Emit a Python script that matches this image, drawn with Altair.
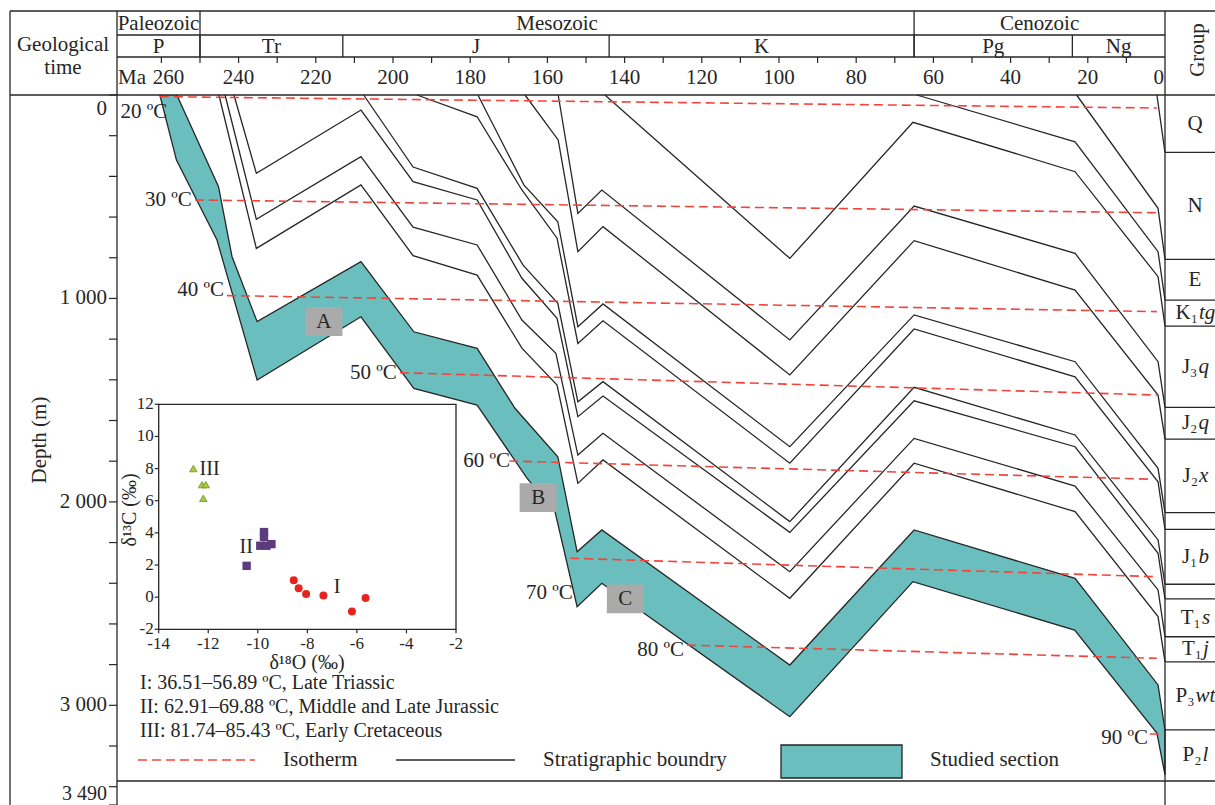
import altair as alt
import pandas as pd

FONT = "Liberation Serif"
INK = "#262626"
TEAL = "#6bbebe"
RED = "#f3443c"
GREY = "#aaaaaa"

# ---------------- geological time scale (Ma) ----------------
era_names = ["Paleozoic", "Mesozoic", "Cenozoic"]
era_from = [271.5, 250.0, 65.0]
era_to = [250.0, 65.0, 0.0]
period_names = ["P", "Tr", "J", "K", "Pg", "Ng"]
period_from = [271.5, 250.0, 213.0, 144.0, 65.0, 24.0]
period_to = [250.0, 213.0, 144.0, 65.0, 24.0, 0.0]
ma_ticks = list(range(10, 261, 10))
ma_labels = list(range(20, 241, 20))

# ---------------- present-day groups (base depth, m) ----------------
group_main = ["Q", "N", "E", "K₁", "J₃", "J₂", "J₂", "", "J₁", "", "T₁", "T₁", "P₃", "P₂"]
group_italic = ["", "", "", "tg", "q", "q", "x", "", "b", "", "s", "j", "wt", "l"]
group_base_m = [282, 808, 1008, 1136, 1535, 1692, 2053, 2135, 2405, 2477, 2663, 2786, 3121, 3372]

depth_ticks = list(range(0, 3401, 200)) + [3490]
depth_labels = [1000, 2000, 3000]
depth_top, depth_bottom = 0, 3490

# ---------------- burial paths: age (Ma) and depth (m) ----------------
# studied section (top and base)
sec_top_ma = [256.0, 245.2, 241.7, 235.2, 208.3, 194.6, 178.2, 168.4, 157.3, 152.3, 145.9, 97.2, 65.0, 23.3, 1.8, 0.0]
sec_top_m = [0, 451, 795, 1114, 819, 1164, 1245, 1540, 1778, 2245, 2138, 2802, 2138, 2376, 2900, 3121]
sec_base_ma = [260.4, 256.1, 245.6, 235.2, 208.3, 194.6, 178.2, 165.3, 158.0, 152.3, 145.9, 97.2, 65.3, 23.4, 2.1, 0.0]
sec_base_m = [0, 320, 713, 1401, 1090, 1442, 1524, 1883, 2050, 2515, 2400, 3056, 2392, 2630, 3136, 3342]

# stratigraphic boundaries (base of each unit)
t1j_ma = [245.1, 235.4, 208.3, 194.8, 178.2, 166.6, 157.5, 152.1, 145.6, 97.2, 65.0, 23.3, 1.8, 0.0]
t1j_m = [0, 754, 442, 790, 885, 1244, 1426, 1909, 1794, 2474, 1810, 2048, 2564, 2786]
t1s_ma = [243.5, 235.4, 208.3, 194.8, 178.2, 166.6, 157.8, 152.1, 145.6, 97.2, 65.0, 23.3, 1.8, 0.0]
t1s_m = [0, 611, 303, 650, 737, 1106, 1270, 1770, 1663, 2343, 1688, 1922, 2433, 2663]
t1u_ma = [241.2, 235.4, 208.3, 194.8, 178.2, 166.6, 157.5, 152.1, 145.6, 97.2, 65.0, 23.3, 1.8, 0.0]
t1u_m = [0, 385, 74, 426, 516, 901, 1098, 1581, 1480, 2150, 1503, 1729, 2253, 2477]
j1b_ma = [207.6, 194.8, 178.2, 166.3, 157.3, 152.1, 145.6, 97.2, 65.0, 23.3, 1.8, 0.0]
j1b_m = [0, 354, 459, 836, 1024, 1508, 1409, 2097, 1437, 1671, 2187, 2405]
j1u_ma = [193.8, 178.2, 166.6, 157.5, 152.1, 145.6, 97.2, 65.0, 23.3, 1.8, 0.0]
j1u_m = [0, 107, 467, 704, 1221, 1110, 1810, 1150, 1385, 1901, 2135]
j2x_ma = [178.0, 166.1, 157.3, 152.1, 145.6, 97.2, 65.0, 23.3, 1.8, 0.0]
j2x_m = [0, 442, 623, 1139, 1027, 1729, 1081, 1311, 1835, 2053]
j2q_ma = [165.8, 157.2, 152.1, 145.6, 97.2, 65.0, 23.3, 1.8, 0.0]
j2q_m = [0, 221, 770, 647, 1376, 716, 959, 1475, 1692]
j3q_ma = [157.2, 152.1, 145.9, 97.2, 65.0, 23.3, 1.8, 0.0]
j3q_m = [0, 582, 467, 1204, 546, 778, 1311, 1535]
k1tg_ma = [145.1, 97.2, 65.3, 23.3, 1.8, 0.0]
k1tg_m = [0, 803, 134, 377, 893, 1136]
e_ma = [64.3, 23.3, 1.8, 0.0]
e_m = [0, 230, 770, 1008]
n_ma = [22.9, 1.8, 0.0]
n_m = [0, 557, 808]
q_ma = [2.1, 0.0]
q_m = [0, 282]

# ---------------- isotherms ----------------
iso_temp = [20, 30, 40, 50, 60, 70, 80, 90]
iso_from_ma = [260.4, 251.3, 243.0, 198.2, 169.9, 154.1, 123.8, 3.9]
iso_from_m = [8, 516, 986, 1365, 1799, 2277, 2704, 3141]
iso_to_ma = [2.1, 1.8, 2.1, 1.8, 4.4, 2.1, 2.1, 0.0]
iso_to_m = [64, 579, 1065, 1475, 1888, 2368, 2769, 3141]
iso_label_ma = [258.5, 252.1, 243.8, 199.0, 169.7, 153.4, 124.6, 4.4]
iso_label_m = [84, 516, 959, 1367, 1799, 2448, 2728, 3159]

# sampled intervals
box_names = ["A", "B", "C"]
box_ma = [217.9, 162.4, 139.8]
box_m = [1114, 1979, 2477]

# ---------------- inset: calcite isotopes ----------------
g1_o18 = [-8.55, -8.35, -8.05, -7.35, -6.2, -5.65]
g1_c13 = [1.05, 0.55, 0.2, 0.1, -0.9, -0.05]
g2_o18 = [-10.45, -9.75, -9.75, -9.9, -9.65, -9.45]
g2_c13 = [1.95, 4.05, 3.75, 3.2, 3.2, 3.3]
g3_o18 = [-12.6, -12.25, -12.1, -12.2]
g3_c13 = [8.0, 7.0, 7.0, 6.15]
inset_xticks = list(range(-14, -1, 2))
inset_yticks = list(range(-2, 13, 2))

# ================= layout =================
W, H = 1048, 710
XS = alt.Scale(domain=[271.5, 0], nice=False, zero=False)
YS = alt.Scale(domain=[depth_top, depth_bottom], reverse=True, nice=False, zero=False)


def X(f):
    return alt.X(f"{f}:Q", scale=XS, axis=None)


def Y(f):
    return alt.Y(f"{f}:Q", scale=YS, axis=None)


one = pd.DataFrame({"k": [0]})


def txt(text, x, y, size=21, align="center", baseline="middle", **kw):
    return alt.Chart(one).mark_text(
        text=text, font=FONT, fontSize=size, color=INK, align=align, baseline=baseline, **kw
    ).encode(x=alt.value(x), y=alt.value(y))


def seg(x1, x2, y1, y2, color=INK, width=1.3, dash=None):
    kw = dict(color=color, strokeWidth=width)
    if dash:
        kw["strokeDash"] = dash
    return alt.Chart(one).mark_rule(**kw).encode(
        x=alt.value(x1), x2=alt.value(x2), y=alt.value(y1), y2=alt.value(y2)
    )


def fmt_depth(v):
    return f"{v:,}".replace(",", " ")


# studied section polygon
poly = pd.DataFrame({"ma": sec_top_ma + sec_base_ma[::-1], "depth": sec_top_m + sec_base_m[::-1]})
poly["i"] = range(len(poly))
section = alt.Chart(poly).mark_line(fill=TEAL, stroke=INK, strokeWidth=1.3).encode(
    x=X("ma"), y=Y("depth"), order="i:Q"
)


def series(name, ma, m):
    return pd.DataFrame({"name": name, "i": range(len(ma)), "ma": ma, "depth": m})


strata = pd.concat([series(n, a, d) for n, a, d in [
    ("T1j", t1j_ma, t1j_m), ("T1s", t1s_ma, t1s_m), ("T1u", t1u_ma, t1u_m),
    ("J1b", j1b_ma, j1b_m), ("J1u", j1u_ma, j1u_m), ("J2x", j2x_ma, j2x_m),
    ("J2q", j2q_ma, j2q_m), ("J3q", j3q_ma, j3q_m), ("K1tg", k1tg_ma, k1tg_m),
    ("E", e_ma, e_m), ("N", n_ma, n_m), ("Q", q_ma, q_m)]], ignore_index=True)
strat_lines = alt.Chart(strata).mark_line(color=INK, strokeWidth=1.3).encode(
    x=X("ma"), y=Y("depth"), detail="name:N", order="i:Q"
)

iso = pd.DataFrame({
    "temp": iso_temp * 2,
    "ma": iso_from_ma + iso_to_ma,
    "depth": iso_from_m + iso_to_m,
})
iso_lines = alt.Chart(iso).mark_line(color=RED, strokeDash=[9, 5], strokeWidth=1.6).encode(
    x=X("ma"), y=Y("depth"), detail="temp:N"
)
iso_lab = pd.DataFrame({"t": [f"{v} ºC" for v in iso_temp], "ma": iso_label_ma, "depth": iso_label_m})
iso_text = alt.Chart(iso_lab).mark_text(
    font=FONT, fontSize=21, color=INK, align="right", baseline="middle"
).encode(x=X("ma"), y=Y("depth"), text="t:N")

boxes = pd.DataFrame({"n": box_names, "ma": box_ma, "depth": box_m})
box_marks = alt.Chart(boxes).mark_point(
    shape="M-1,-0.78H1V0.78H-1Z", size=1369, filled=True, color=GREY, opacity=1
).encode(x=X("ma"), y=Y("depth"))
box_text = alt.Chart(boxes).mark_text(font=FONT, fontSize=21, color=INK).encode(
    x=X("ma"), y=Y("depth"), text="n:N"
)

# depth axis
dt = pd.DataFrame({"depth": depth_ticks})
depth_tick = alt.Chart(dt).mark_rule(color=INK, strokeWidth=1.2).encode(
    x=alt.value(-8), x2=alt.value(0), y=Y("depth"))
dl = pd.DataFrame({"depth": depth_labels, "t": [fmt_depth(v) for v in depth_labels]})
depth_lab = alt.Chart(dl).mark_text(font=FONT, fontSize=21, color=INK, align="right",
                                    baseline="middle").encode(x=alt.value(-10), y=Y("depth"), text="t:N")
d0 = pd.DataFrame({"depth": [depth_top], "t": [fmt_depth(depth_top)]})
depth_lab0 = alt.Chart(d0).mark_text(font=FONT, fontSize=21, color=INK, align="right",
                                     baseline="top", dy=3).encode(x=alt.value(-10), y=Y("depth"), text="t:N")
d1 = pd.DataFrame({"depth": [depth_bottom], "t": [fmt_depth(depth_bottom)]})
depth_lab1 = alt.Chart(d1).mark_text(font=FONT, fontSize=20, color=INK, align="right",
                                     baseline="bottom", dy=-1).encode(x=alt.value(-10), y=Y("depth"), text="t:N")

# group column
gb = pd.DataFrame({"depth": group_base_m[:-1]})
group_rules = alt.Chart(gb).mark_rule(color=INK, strokeWidth=1.3).encode(
    x=alt.value(W), x2=alt.value(W + 50), y=Y("depth")
)
bottom_rule = alt.Chart(pd.DataFrame({"depth": group_base_m[-1:]})).mark_rule(
    color=INK, strokeWidth=1.3
).encode(x=alt.value(0), x2=alt.value(W + 50), y=Y("depth"))

UP_W = {"Q": .722, "N": .722, "E": .611, "K": .722, "J": .389, "T": .611, "P": .556,
        "₁": .34, "₂": .34, "₃": .34}
IT_W = {"t": .278, "g": .5, "q": .5, "x": .444, "b": .5, "s": .389, "j": .278, "w": .667, "l": .278}


def wid(s, tab):
    return sum(tab.get(c, .5) for c in s) * 21


group_layers = []
tops = [0] + group_base_m[:-1]
for a, b, t0, t1 in zip(group_main, group_italic, tops, group_base_m):
    if not a:
        continue
    wa, wb = wid(a, UP_W), wid(b, IT_W)
    anchor = W + 30 - (wa + wb) / 2 + wa
    d = pd.DataFrame({"depth": [(t0 + t1) / 2]})
    group_layers.append(alt.Chart(d).mark_text(
        text=a, font=FONT, fontSize=21, color=INK, align="right", baseline="middle"
    ).encode(x=alt.value(anchor), y=Y("depth")))
    if b:
        group_layers.append(alt.Chart(d).mark_text(
            text=b, font=FONT, fontSize=21, color=INK, align="left", baseline="middle",
            fontStyle="italic"
        ).encode(x=alt.value(anchor + 1), y=Y("depth")))

# header rows
eras = pd.DataFrame({"name": era_names, "a": era_from, "b": era_to})
eras["mid"] = (eras.a + eras.b) / 2
periods = pd.DataFrame({"name": period_names, "a": period_from, "b": period_to})
periods["mid"] = (periods.a + periods.b) / 2
era_text = alt.Chart(eras).mark_text(font=FONT, fontSize=21, color=INK, baseline="middle").encode(
    x=X("mid"), y=alt.value(-71), text="name:N")
era_div = alt.Chart(eras.iloc[1:]).mark_rule(color=INK, strokeWidth=1.3).encode(
    x=X("a"), y=alt.value(-84), y2=alt.value(-38))
per_text = alt.Chart(periods).mark_text(font=FONT, fontSize=21, color=INK, baseline="middle").encode(
    x=X("mid"), y=alt.value(-48), text="name:N")
per_div = alt.Chart(periods.iloc[1:]).mark_rule(color=INK, strokeWidth=1.3).encode(
    x=X("a"), y=alt.value(-60), y2=alt.value(-38))
ticks_df = pd.DataFrame({"ma": ma_ticks})
ma_tick = alt.Chart(ticks_df).mark_rule(color=INK, strokeWidth=1.2).encode(
    x=X("ma"), y=alt.value(-38), y2=alt.value(-32))
labs_df = pd.DataFrame({"ma": ma_labels})
labs_df["t"] = labs_df.ma.astype(str)
ma_text = alt.Chart(labs_df).mark_text(font=FONT, fontSize=21, color=INK, baseline="middle").encode(
    x=X("ma"), y=alt.value(-17), text="t:N")
# oldest label sits just right of the "Ma" unit, youngest flush against the column edge
first_text = alt.Chart(pd.DataFrame({"ma": [260], "t": ["260"]})).mark_text(
    font=FONT, fontSize=21, color=INK, baseline="middle", dx=7
).encode(x=X("ma"), y=alt.value(-17), text="t:N")
zero_text = alt.Chart(pd.DataFrame({"ma": [0], "t": ["0"]})).mark_text(
    font=FONT, fontSize=21, color=INK, align="right", baseline="middle", dx=-1
).encode(x=X("ma"), y=alt.value(-17), text="t:N")

frame = [
    seg(-107, W + 50, -84, -84), seg(0, W, -60, -60), seg(0, W, -38, -38),
    seg(-107, W + 50, 0, 0), seg(-107, -107, -84, H), seg(0, 0, -84, H), seg(W, W, -84, H),
]
header_text = [
    txt("Ma", 1, -17, align="left"),
    txt("Geological", -54, -50), txt("time", -54, -27),
    txt("Group", W + 33, -45, angle=270),
    txt("Depth (m)", -77, 345, angle=270),
]

# legend
legend = [
    seg(21, 138, 665, 665, color=RED, width=1.6, dash=[9, 5]),
    txt("Isotherm", 166, 665, align="left"),
    seg(279, 398, 665, 665, width=1.3),
    txt("Stratigraphic boundry", 426, 665, align="left"),
    alt.Chart(one).mark_rect(fill=TEAL, stroke=INK, strokeWidth=1.3).encode(
        x=alt.value(664), x2=alt.value(785), y=alt.value(650), y2=alt.value(683)),
    txt("Studied section", 813, 665, align="left"),
    txt("I: 36.51–56.89  ºC, Late Triassic", 23, 588, size=20, align="left"),
    txt("II: 62.91–69.88 ºC, Middle and Late Jurassic", 23, 612, size=20, align="left"),
    txt("III: 81.74–85.43 ºC, Early Cretaceous", 23, 636, size=20, align="left"),
]

main = alt.layer(
    section, strat_lines, iso_lines, iso_text, box_marks, box_text,
    depth_tick, depth_lab, depth_lab0, depth_lab1,
    group_rules, bottom_rule, *group_layers,
    era_text, era_div, per_text, per_div, ma_tick, ma_text, first_text, zero_text,
    *frame, *header_text, *legend,
)

# ---------------- inset scatter ----------------
IX0, IX1, IY0, IY1 = 41.7, 339.0, 534.3, 309.3
IXS = alt.Scale(domain=[-14, -2], range=[IX0, IX1], nice=False, zero=False)
IYS = alt.Scale(domain=[-2, 12], range=[IY0, IY1], nice=False, zero=False)


def IX(f):
    return alt.X(f"{f}:Q", scale=IXS, axis=None)


def IY(f):
    return alt.Y(f"{f}:Q", scale=IYS, axis=None)


box_df = pd.DataFrame({"x0": [inset_xticks[0]], "x1": [inset_xticks[-1]],
                       "y0": [inset_yticks[0]], "y1": [inset_yticks[-1]]})
inset_frame = alt.Chart(box_df).mark_rect(fill="white", stroke=INK, strokeWidth=1.3).encode(
    x=IX("x0"), x2="x1", y=IY("y0"), y2="y1")
xt = pd.DataFrame({"v": inset_xticks})
xt["t"] = xt.v.astype(str)
yt = pd.DataFrame({"v": inset_yticks})
yt["t"] = yt.v.astype(str)
x_tick = alt.Chart(xt).mark_rule(color=INK, strokeWidth=1.2).encode(
    x=IX("v"), y=alt.value(IY0), y2=alt.value(IY0 + 4))
x_lab = alt.Chart(xt).mark_text(font=FONT, fontSize=17, color=INK, baseline="top").encode(
    x=IX("v"), y=alt.value(IY0 + 7), text="t:N")
y_tick = alt.Chart(yt).mark_rule(color=INK, strokeWidth=1.2).encode(
    y=IY("v"), x=alt.value(IX0 - 4), x2=alt.value(IX0))
y_lab = alt.Chart(yt).mark_text(font=FONT, fontSize=17, color=INK, align="right", baseline="middle").encode(
    y=IY("v"), x=alt.value(IX0 - 5), text="t:N")

g1 = pd.DataFrame({"o": g1_o18, "c": g1_c13})
g2 = pd.DataFrame({"o": g2_o18, "c": g2_c13})
g3 = pd.DataFrame({"o": g3_o18, "c": g3_c13})
pts1 = alt.Chart(g1).mark_point(shape="circle", filled=True, color="#e5251d", size=64, opacity=1).encode(
    x=IX("o"), y=IY("c"))
pts2 = alt.Chart(g2).mark_point(shape="square", filled=True, color="#5d3a7c", size=70, opacity=1).encode(
    x=IX("o"), y=IY("c"))
pts3 = alt.Chart(g3).mark_point(shape="triangle-up", filled=True, fill="#a9cb3f", stroke="#6f8f22",
                                strokeWidth=0.8, size=55, opacity=1).encode(x=IX("o"), y=IY("c"))

grp_lab = pd.DataFrame({"t": ["III", "II", "I"], "o": [-12.35, -10.2, -6.8], "c": [8.0, 3.1, 0.65],
                        "al": ["left", "right", "center"]})
grp_text = [
    alt.Chart(grp_lab.iloc[[i]]).mark_text(font=FONT, fontSize=20, color=INK, align=a, baseline="middle")
    .encode(x=IX("o"), y=IY("c"), text="t:N")
    for i, a in enumerate(grp_lab.al)
]
inset_titles = [
    txt("δ¹³C (‰)", 13, 415, size=20, angle=270),
    txt("δ¹⁸O (‰)", 190, 568, size=20),
]

inset = alt.layer(inset_frame, x_tick, x_lab, y_tick, y_lab, pts1, pts2, pts3, *grp_text, *inset_titles)

chart = alt.layer(main, inset).resolve_scale(x="independent", y="independent").properties(
    width=W, height=H,
    padding={"left": 117, "top": 95, "right": 50, "bottom": 0},
    autosize=alt.AutoSizeParams(type="none"),
).configure_view(stroke=None)

chart.save("out.html", embed_options={"renderer": "svg", "actions": False})
